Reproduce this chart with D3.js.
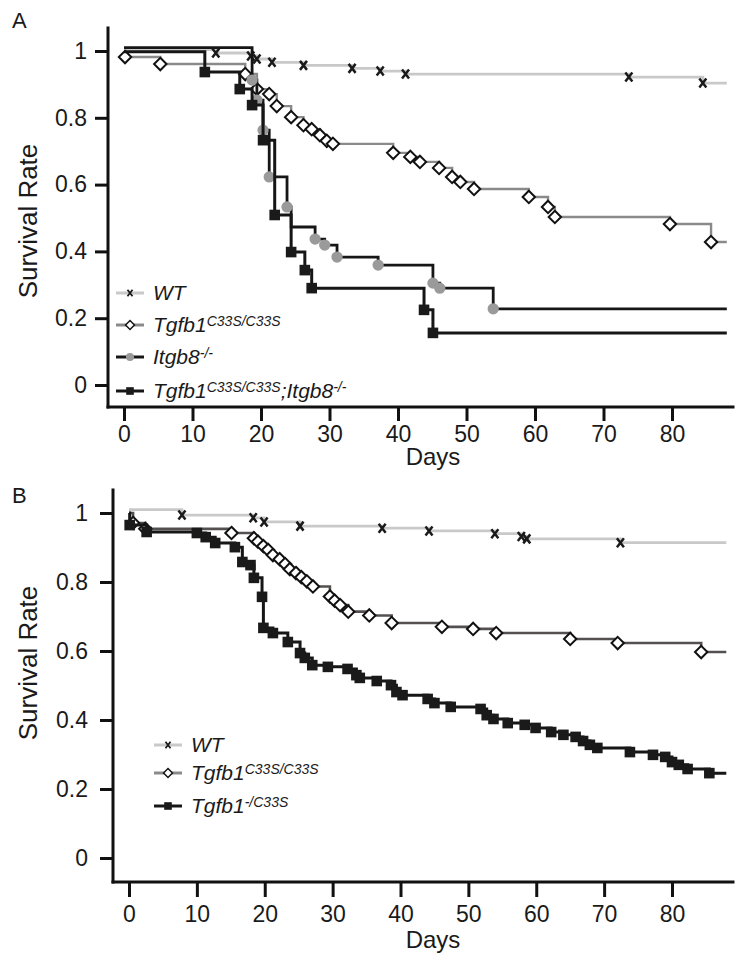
<!DOCTYPE html>
<html>
<head>
<meta charset="utf-8">
<script src="https://cdn.jsdelivr.net/npm/d3@7"></script>
<style>
body { margin: 0; background: #fff; }
svg text { font-family: "Liberation Sans", Arial, Helvetica, sans-serif; fill: #1a1a1a; }
</style>
</head>
<body>
<div id="chart"></div>
<script>
var width = 750,
	height = 961;

// Axis ticks
var xTicks = [0, 10, 20, 30, 40, 50, 60, 70, 80];
var yTicks = [0, 0.2, 0.4, 0.6, 0.8, 1];
var lastDay = 88;

// Panel A: [day, survival after the step]  (third value 0 = step without symbol)
var wtA = [[0, 1.004], [13.4, 0.994], [18.5, 0.985], [19.4, 0.976], [21.6, 0.966], [26.2, 0.957],
	[33.3, 0.948], [37.4, 0.940], [41.1, 0.931], [73.7, 0.922], [84.5, 0.904]];
var c33sA = [[0, 1.0], [0.15, 0.982], [5.3, 0.961], [17.7, 0.931], [19.4, 0.886], [21.2, 0.871],
	[22.3, 0.835], [24.4, 0.802], [26.2, 0.778], [27.4, 0.766], [28.6, 0.748], [29.6, 0.731],
	[30.5, 0.722], [39.3, 0.695], [41.8, 0.683], [43.2, 0.668], [46.0, 0.650], [47.9, 0.623],
	[49.1, 0.608], [51.1, 0.587], [59.1, 0.563], [61.9, 0.533], [62.9, 0.503], [79.7, 0.482],
	[85.7, 0.428]];
var itgb8A = [[0, 1.01], [18.7, 0.913], [19.4, 0.853], [20.3, 0.763], [21.2, 0.623], [23.8, 0.533],
	[24.4, 0.473, 0], [27.9, 0.437], [29.3, 0.419], [31.1, 0.383], [37.1, 0.359], [45.1, 0.305],
	[46.1, 0.290], [53.9, 0.228]];
var doubleA = [[0, 0.998], [11.8, 0.937], [16.9, 0.886], [18.7, 0.838], [20.3, 0.733], [22.0, 0.509],
	[24.4, 0.398], [26.4, 0.344], [27.4, 0.290], [43.8, 0.225], [45.1, 0.156]];

// Panel B
var wtB = [[0, 1.01], [7.8, 0.994], [18.3, 0.986], [19.9, 0.974], [25.2, 0.962], [37.3, 0.956],
	[44.2, 0.948], [53.9, 0.940], [57.8, 0.932], [58.6, 0.925], [72.4, 0.914]];
var c33sB = [[0, 1.0], [0.6, 0.971], [2.4, 0.954], [15.1, 0.942], [18.4, 0.927], [19.0, 0.917],
	[19.8, 0.904], [20.5, 0.893], [21.2, 0.878], [22.2, 0.866], [23.0, 0.852], [23.7, 0.837],
	[24.6, 0.826], [25.4, 0.814], [26.2, 0.802], [27.1, 0.787], [29.6, 0.758], [30.3, 0.746],
	[31.1, 0.733], [32.3, 0.714], [35.4, 0.703], [38.7, 0.681], [46.1, 0.670], [50.7, 0.664],
	[54.1, 0.652], [65.0, 0.635], [72.0, 0.623], [84.3, 0.597]];
var hetB = [[0, 1.0], [0.1, 0.965], [2.6, 0.945], [10.0, 0.942], [11.3, 0.930], [12.7, 0.913],
	[15.6, 0.901], [16.7, 0.858], [17.9, 0.849], [18.4, 0.812], [19.6, 0.757], [19.8, 0.667],
	[21.2, 0.652], [23.4, 0.626], [25.2, 0.594], [25.9, 0.580], [27.0, 0.559], [29.3, 0.554],
	[32.2, 0.548], [33.5, 0.530], [34.0, 0.522], [36.5, 0.513], [38.6, 0.501], [39.4, 0.481],
	[40.3, 0.472], [44.0, 0.461], [45.0, 0.449], [47.4, 0.438], [51.8, 0.432], [52.7, 0.414],
	[53.7, 0.403], [55.8, 0.391], [58.3, 0.386], [59.9, 0.377], [62.2, 0.365], [64.0, 0.357],
	[65.8, 0.351], [66.9, 0.339], [67.9, 0.328], [69.0, 0.319], [73.8, 0.307], [77.2, 0.299],
	[79.0, 0.293], [80.0, 0.278], [81.0, 0.270], [82.3, 0.258], [85.5, 0.246]];

// Legend labels: [text, superscript?]
var legendA = [
	[["WT", 0]],
	[["Tgfb1", 0], ["C33S/C33S", 1]],
	[["Itgb8", 0], ["-/-", 1]],
	[["Tgfb1", 0], ["C33S/C33S", 1], [";Itgb8", 0], ["-/-", 1]]
];
var legendB = [
	[["WT", 0]],
	[["Tgfb1", 0], ["C33S/C33S", 1]],
	[["Tgfb1", 0], ["-/C33S", 1]]
];

var svg = d3.select("#chart")
	.append("svg")
	.attr("width", width)
	.attr("height", height);

// Symbols
var symbols = {
	x: { d: "M-3.5,-4.5L3.5,4.5M3.5,-4.5L-3.5,4.5", fill: "none", stroke: "#1a1a1a", sw: 2.5 },
	diamond: { d: "M0,-6.2L6.2,0L0,6.2L-6.2,0Z", fill: "#fff", stroke: "#111", sw: 2 },
	circle: { d: d3.symbol(d3.symbolCircle, 100)(), fill: "#9a9a9a", stroke: "none", sw: 0 },
	square: { d: "M-5.3,-5.3H5.3V5.3H-5.3Z", fill: "#1a1a1a", stroke: "none", sw: 0 }
};

function fmtY(d) {
	return (d === 0 || d === 1) ? String(d) : d3.format(".1f")(d);
}

function drawSymbol(g, type, cx, cy, k) {
	var s = symbols[type];
	k = k || 1;
	g.append("path")
		.attr("d", s.d)
		.attr("transform", "translate(" + cx + "," + cy + ") scale(" + k + ")")
		.attr("fill", s.fill)
		.attr("stroke", s.stroke)
		.attr("stroke-width", s.sw);
}

function drawPanel(p) {
	var x = d3.scaleLinear().domain([0, 80]).range([p.x0, p.x80]);
	var y = d3.scaleLinear().domain([0, 1]).range([p.y0, p.y1]);
	var g = svg.append("g");

	// Y axis
	var yAxis = g.append("g")
		.attr("transform", "translate(" + p.axisX + ",0)")
		.call(d3.axisLeft(y).tickValues(yTicks).tickSize(13).tickPadding(p.yPad).tickFormat(fmtY));
	yAxis.select(".domain").attr("d", "M0," + p.axisTop + "V" + p.axisY);

	// X axis
	var xAxis = g.append("g")
		.attr("transform", "translate(0," + p.axisY + ")")
		.call(d3.axisBottom(x).tickValues(xTicks).tickSize(p.xTick).tickPadding(p.xPad));
	xAxis.select(".domain").attr("d", "M" + p.axisX + ",0H" + p.axisRight);

	[yAxis, xAxis].forEach(function(a) {
		a.attr("font-size", null).attr("font-family", null);
		a.select(".domain").attr("stroke", "#111").attr("stroke-width", 3).attr("stroke-linecap", "square");
		a.selectAll(".tick line").attr("stroke", "#111").attr("stroke-width", 3);
		a.selectAll(".tick text").style("font-size", "23px");
	});

	// Titles
	g.append("text")
		.attr("transform", "translate(37," + p.ytitleY + ") rotate(-90)")
		.attr("text-anchor", "middle")
		.style("font-size", "26px")
		.text("Survival Rate");
	g.append("text")
		.attr("x", 433)
		.attr("y", p.daysY)
		.attr("text-anchor", "middle")
		.style("font-size", "24px")
		.text("Days");
	g.append("text")
		.attr("x", 12)
		.attr("y", p.letterY)
		.style("font-size", "22px")
		.text(p.letter);

	// Survival curves
	var line = d3.line()
		.x(function(d) { return x(d[0]); })
		.y(function(d) { return y(d[1]); })
		.curve(d3.curveStepAfter);

	p.series.forEach(function(s) {
		var pts = s.data.concat([[lastDay, s.data[s.data.length - 1][1]]]);
		g.append("path")
			.datum(pts)
			.attr("d", line)
			.attr("fill", "none")
			.attr("stroke", s.color)
			.attr("stroke-width", s.width);
		s.data.forEach(function(d, i) {
			if (i === 0 || d[2] === 0) return;
			drawSymbol(g, s.symbol, x(d[0]), y(d[1]));
		});
	});

	// Legend
	p.legend.forEach(function(lab, i) {
		var s = p.series[i];
		var ly = p.legendY[i];
		g.append("line")
			.attr("x1", p.legendX).attr("x2", p.legendX + 28)
			.attr("y1", ly).attr("y2", ly)
			.attr("stroke", s.legendColor || s.color)
			.attr("stroke-width", 3);
		drawSymbol(g, s.symbol, p.legendX + 14, ly, 0.72);
		var t = g.append("text")
			.attr("x", p.legendX + 37)
			.attr("y", ly + 7)
			.style("font-style", "italic")
			.style("font-size", "21px");
		var up = false;
		lab.forEach(function(part) {
			var ts = t.append("tspan").text(part[0]);
			if (part[1]) {
				ts.style("font-size", "14px").attr("dy", -6);
				up = true;
			} else if (up) {
				ts.attr("dy", 6);
				up = false;
			}
		});
	});
}

drawPanel({
	letter: "A", letterY: 28,
	x0: 124, x80: 672, y0: 385, y1: 51,
	axisX: 108, axisY: 407, axisTop: 28, axisRight: 733,
	yPad: 8, xTick: 14, xPad: 5,
	ytitleY: 221, daysY: 465,
	legendX: 116, legendY: [293, 325, 357, 391],
	legend: legendA,
	series: [
		{ data: wtA, color: "#c9c9c9", width: 2.8, symbol: "x" },
		{ data: c33sA, color: "#8a8a8a", width: 2.4, symbol: "diamond" },
		{ data: itgb8A, color: "#161616", width: 2.8, symbol: "circle" },
		{ data: doubleA, color: "#161616", width: 3, symbol: "square" }
	]
});

drawPanel({
	letter: "B", letterY: 503,
	x0: 129, x80: 672, y0: 858, y1: 513,
	axisX: 113, axisY: 882, axisTop: 490, axisRight: 733,
	yPad: 12, xTick: 15, xPad: 9,
	ytitleY: 663, daysY: 948,
	legendX: 154, legendY: [745, 773, 806],
	legend: legendB,
	series: [
		{ data: wtB, color: "#c9c9c9", width: 2.8, symbol: "x" },
		{ data: c33sB, color: "#555050", legendColor: "#8a8a8a", width: 2.6, symbol: "diamond" },
		{ data: hetB, color: "#161616", width: 3, symbol: "square" }
	]
});
</script>
</body>
</html>
